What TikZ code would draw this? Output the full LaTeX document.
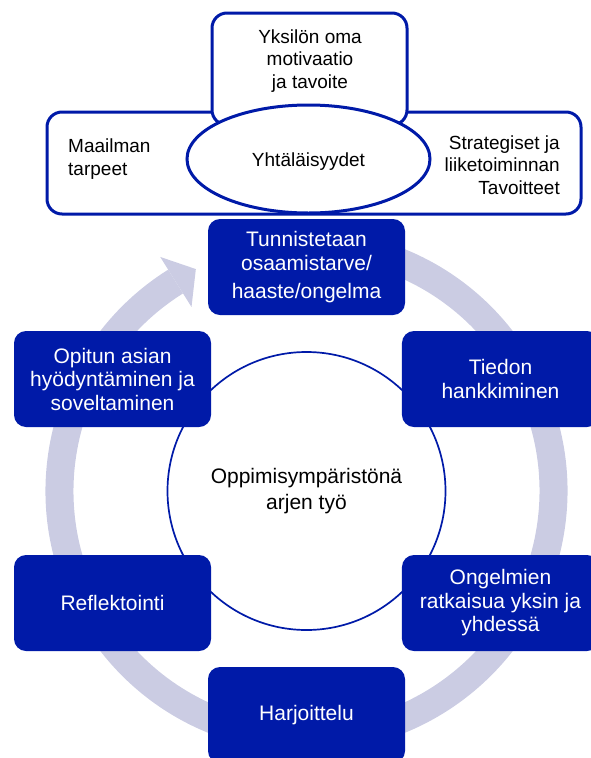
\documentclass[tikz,border=0pt]{standalone}
\usepackage{fontspec}
\setmainfont{Liberation Sans}
\usetikzlibrary{calc,shapes.geometric}
\definecolor{deepblue}{RGB}{0,26,168}
\definecolor{ringgray}{RGB}{203,204,227}
\begin{document}
\begin{tikzpicture}[x=1pt,y=1pt,
  stepbox/.style={fill=deepblue, text=white, rounded corners=12pt,
    minimum width=197pt, minimum height=96pt, align=center, inner sep=0pt,
    font=\fontsize{21}{23.5}\selectfont},
  outlinebox/.style={draw=deepblue, line width=3pt, fill=white, rounded corners=15pt},
  smalltext/.style={font=\fontsize{19}{22.5}\selectfont, inner sep=0pt},
]
\useasboundingbox (0,0) rectangle (590,-758);
\coordinate (C) at (306.5,-491);

% circular arrow around the cycle
\fill[ringgray] ($(C)+(122:233)$) arc[start angle=122, end angle=440, radius=233]
  -- ($(C)+(440:261)$) arc[start angle=440, end angle=122, radius=261] -- cycle;
\fill[ringgray] ($(C)+(122:217)$) -- ($(C)+(122:276)$) -- ($(C)+(116.5:248)$) -- cycle;

% centre circle
\node[circle, draw=deepblue, line width=1.7pt, fill=white, minimum size=278pt,
  inner sep=0pt, align=center, font=\fontsize{21}{26}\selectfont] (core) at (C)
  {Oppimisympäristönä\\arjen työ};

% steps of the cycle
\node[stepbox] (tunn) at ($(C)+(90:224)$) {Tunnistetaan\\osaamistarve/\\[4.5pt]haaste/ongelma};
\node[stepbox] (tied) at ($(C)+(30:224)$) {Tiedon\\hankkiminen};
\node[stepbox] (onge) at ($(C)+(-30:224)$) {Ongelmien\\ratkaisua yksin ja\\yhdessä};
\node[stepbox] (harj) at ($(C)+(-90:224)$) {Harjoittelu};
\node[stepbox] (refl) at ($(C)+(-150:224)$) {Reflektointi};
\node[stepbox] (opit) at ($(C)+(150:224)$) {Opitun asian\\hyödyntäminen ja\\soveltaminen};

% overlapping goals on top
\node[outlinebox, minimum width=534pt, minimum height=102pt] (wide) at (314,-163) {};
\node[outlinebox, minimum width=195pt, minimum height=112pt] (yksbox) at (309.5,-69) {};
\node[ellipse, draw=deepblue, line width=3pt, fill=white, minimum width=243pt,
  minimum height=108pt, inner sep=0pt] (yht) at (308.5,-159) {};
\node[smalltext] (yhttext) at (308.5,-161.5) {Yhtäläisyydet};

\node[smalltext, align=center] (yks) at (310,-61) {Yksilön oma\\motivaatio\\ja tavoite};
\node[smalltext, align=left, anchor=west] (maail) at (68,-159) {Maailman\\tarpeet};
\node[smalltext, align=right, anchor=east] (strat) at (560,-165) {Strategiset ja\\liiketoiminnan\\Tavoitteet};
\end{tikzpicture}
\end{document}
